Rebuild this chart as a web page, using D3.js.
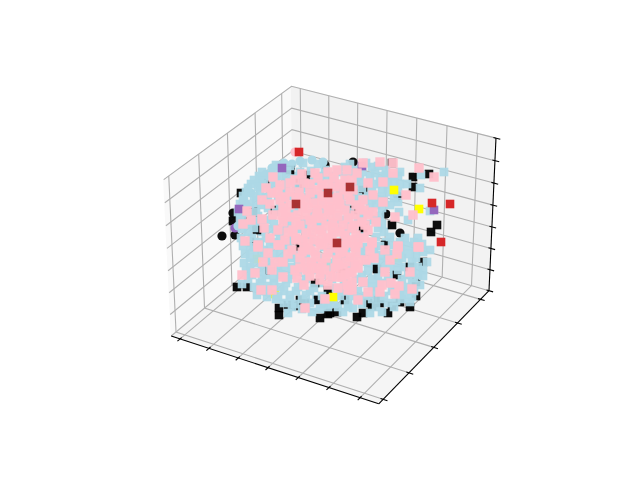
<!DOCTYPE html>
<html>
<head>
<meta charset="utf-8">
<script src="https://cdn.jsdelivr.net/npm/d3@7"></script>
<style>
  html, body { margin: 0; padding: 0; background: #fff; }
  svg { display: block; }
</style>
</head>
<body>
<svg width="640" height="480"></svg>
<script>
'use strict';

// axis ticks (labels are switched off in the original)
var xTicks = [-3, -2, -1, 0, 1, 2, 3];
var yTicks = [-4, -2, 0, 2, 4];
var zTicks = [-7, -5, -3, -1, 1, 3, 5, 7];

// scatter values as [horizontal, vertical] in the projected view
var blackCircles = [[222,236],[398,196],[400,233],[386,214],[353,162],[243,216],[235,235],[290,168],[265,183],[325,165],[256,229],[233,213]];
var blackSquares = [[241,193],[233,221],[413,177],[429,174],[413,187],[437,225],[431,232],[392,163],
  [279,308],[279,315],[237,287],[247,287],[288,305],[300,300],[305,303],[328,314],[337,312],[357,317],
  [363,313],[378,300],[380,303],[388,313],[368,303],[400,302],[410,307],[416,282],[423,262],[330,313],
  [250,242],[372,306],[392,306],[416,296],[320,318],[298,306]];
var blackMiddle = [[307,175],[300,183],[275,210],[253,212],[353,210],[363,190],[392,225],[363,228],[315,283],[328,290],
  [318,300],[343,273],[377,269],[397,275],[410,267],[300,247],[257,230],[290,170],[345,300],[385,245],[270,270]];
var purpleBehind = [[243,203],[235,228]];
var yellowBehind = [[257,259],[327,263],[398,258],[243,212],[275,294]];
var blueCircles = [[272,168],[266,174],[284,163],[300,161],[312,160],[323,162],[258,183],[251,193],[246,204],[241,214],[238,226],[278,166],[292,164],[260,178]];
var blueBackSquares = [
  [259,176],[270,176],[282,176],[295,176],[308,176],[321,176],[334,176],[346,176],[358,176],[370,176],[382,176],[390,176],
  [251,184],[262,184],[274,184],[286,184],[298,184],[310,184],[322,184],[334,184],[346,184],[356,184],[368,184],[376,184],[388,184],[400,184],
  [246,192],[260,192],[272,192],[286,192],[300,192],[312,192],[324,192],[340,192],[352,192],[372,192],[388,192],[398,192],
  [244,200],[256,200],[268,200],[284,200],[300,200],[316,200],[328,200],[340,200],[352,200],[364,200],[372,200],[384,200],[398,202],
  [242,208],[254,208],[268,208],[284,208],[302,208],[318,208],[332,208],[344,208],[356,208],[370,208],[382,208],
  [242,216],[258,216],[272,216],[288,216],[312,216],[336,216],[348,216],[362,216],[380,216],
  [246,224],[260,224],[274,224],[290,224],[306,224],[320,224],[334,224],[348,224],[366,224],[382,224],
  [248,232],[262,232],[276,232],[292,232],[306,232],[322,232],[334,232],[346,232],[364,232],[384,232],
  [248,242],[260,242],[274,242],[288,242],[300,242],[316,242],[336,242],[356,242],[372,242],[386,242],[400,242],[414,242],
  [250,250],[264,250],[280,250],[296,250],[310,250],[330,250],[346,250],[360,250],[374,250],[386,250],[400,250],[416,250],
  [250,258],[266,258],[280,258],[290,258],[306,258],[324,258],[344,258],[354,258],[372,258],[388,258],[402,258],[416,258],
  [250,267],[262,267],[278,267],[292,267],[306,267],[322,267],[340,267],[358,267],[376,267],[390,267],[404,267],[418,267],
  [252,275],[266,275],[280,275],[292,275],[308,275],[322,275],[340,275],[362,275],[378,275],[394,275],[408,275],[418,275],
  [260,283],[274,283],[286,283],[302,283],[320,283],[344,283],[364,283],[380,283],[390,283],[412,283],
  [264,291],[284,291],[296,291],[310,291],[328,291],[344,291],[358,291],[376,291],[392,291],[400,291],[414,291],
  [276,299],[290,299],[302,299],[316,299],[330,299],[344,299],[358,299],[372,299],[380,299],[402,299],
  [292,307],[306,307],[328,307],[338,307],[348,307],[376,307],[394,307]
];
var blueSquares = [
  [345,167],[356,170],[372,167],[386,170],[400,172],[421,175],[444,172],
  [276,165],[290,166],[303,163],[318,164],[350,164],[366,163],[378,166],
  [262,172],[274,173],[287,171],[300,172],[311,171],[325,170],[338,172],[350,173],[362,172],[375,173],[386,175],[398,176],
  [254,180],[264,181],[276,180],[288,179],[302,180],[314,181],[328,179],[360,180],[380,181],[394,182],[407,184],
  [248,188],[258,187],[270,188],[282,188],[296,187],[306,188],[330,189],[338,187],[362,188],[382,189],[420,188],
  [243,196],[254,196],[266,197],[278,196],[292,196],[304,197],[316,196],[334,197],[346,196],[358,197],[368,196],[380,197],[394,198],
  [240,204],[250,204],[262,205],[280,204],[296,205],[310,204],[322,205],[334,204],[346,205],[358,204],[376,205],[390,205],
  [238,212],[248,213],[256,212],[276,212],[294,212],[312,213],[326,212],[350,212],[366,213],[399,212],[430,211],
  [240,220],[252,221],[266,220],[284,220],[304,221],[326,221],[342,220],[358,221],[374,220],[408,220],
  [242,229],[254,228],[268,229],[284,229],[298,229],[316,228],[338,229],[352,229],[378,228],
  [241,238],[252,238],[266,238],[280,237],[294,238],[310,237],[326,238],[344,238],[360,237],[376,237],[390,237],[405,238],[418,238],
  [243,246],[254,247],[270,246],[288,246],[304,246],[324,247],[352,246],[366,247],[380,246],[392,245],[408,246],[422,244],[430,250],
  [245,254],[258,255],[274,254],[296,255],[316,255],[336,255],[362,254],[380,255],[392,254],[408,254],[423,252],
  [244,263],[254,263],[270,263],[284,262],[298,263],[314,263],[330,263],[350,263],[368,263],[382,262],[398,263],[412,262],[427,262],
  [246,271],[258,272],[270,270],[284,270],[298,271],[314,270],[330,271],[350,271],[368,271],[382,270],[398,270],[412,270],[423,270],
  [248,279],[262,279],[274,278],[288,279],[306,279],[332,279],[356,279],[372,279],[388,278],[402,279],[414,278],[423,276],
  [242,284],[254,287],[268,286],[280,287],[298,287],[314,288],[336,288],[352,286],[372,287],[396,287],[406,287],[420,285],
  [257,295],[267,297],[278,296],[290,295],[306,295],[322,296],[340,296],[350,296],[366,296],[384,296],[404,295],[412,297],
  [284,303],[295,304],[310,303],[324,304],[334,304],[348,304],[362,304],[388,303],[396,301],[410,302],
  [288,313],[312,312],[320,309],[343,312],[353,308],[370,313],[382,312],[302,309]
];
var purpleSquares = [[282,168],[239,209],[434,210],[362,166]];
var yellowSquares = [[394,190],[419,209],[333,297]];
var pinkCircles = [[295,152]];
var pinkSquares = [
  [273,177],[247,211],[262,219],[243,224],[251,220],[245,241],[258,245],[278,245],[272,193],[278,192],[285,197],[304,183],
  [315,173],[328,172],[290,183],[310,193],[303,207],[317,210],[330,207],[290,217],[273,215],[278,230],[293,230],[310,220],
  [320,230],[333,223],[303,240],[320,243],[380,162],[393,163],[419,168],[434,177],[383,182],[393,173],[368,183],[406,195],
  [383,202],[373,195],[363,200],[373,212],[413,215],[395,217],[368,215],[354,225],[368,230],[343,225],[358,243],[372,242],
  [398,247],[418,247],[353,190],[347,170],[337,170],[357,173],[338,197],[350,200],[337,208],[363,163],[335,187],[242,275],
  [255,273],[261,290],[272,290],[305,308],[325,299],[258,247],[268,253],[280,245],[263,262],[275,262],[283,262],[292,250],
  [305,262],[302,252],[283,277],[297,278],[295,270],[307,270],[320,273],[320,280],[335,268],[337,260],[315,252],[322,245],
  [335,248],[343,252],[342,277],[347,285],[322,263],[337,277],[343,268],[350,273],[355,265],[363,282],[348,290],[358,300],
  [368,292],[380,292],[382,285],[391,283],[399,286],[395,294],[412,289],[410,272],[385,272],[390,260],[397,254],[374,258],
  [370,251],[385,250],[398,246],[419,247],[372,243],[350,257],[340,253],[347,243],[335,243],[299,192],[322,185],[345,180],
  [290,205],[322,196],[345,210],[330,215],[300,225],[312,232],[285,240],[296,240],[310,250],[328,253],[360,208],[356,235],
  [345,235],[332,235],[298,215],[322,218],[283,208],[295,180],[355,215],[356,252],[366,260],[328,285],[304,285],
  [262,200],[270,204],[280,185],[264,228],[270,238],[283,222],[296,198],[306,200],[314,203],[322,204],[330,199],[344,190],
  [310,184],[318,178],[334,178],[340,184],[352,180],[306,215],[316,218],[326,226],[338,216],[348,218],[362,222],[306,233],
  [296,238],[314,240],[328,238],[340,232],[352,240],[364,238],[300,258],[312,262],[326,258],[346,262],[358,260],[310,276],
  [330,276],[352,282],[338,288],[300,268],[272,270],[288,254],[364,210],[376,222],[352,272],[318,190],[328,184],[282,215],
  [266,188],[290,192],[302,174],[340,204],[352,228],[318,268],[308,243],[288,232],
  [300,198],[308,208],[318,214],[328,210],[338,200],[348,195],[356,205],[312,225],[322,235],[334,228],[344,245],[355,247],
  [365,225],[304,248],[316,257],[330,244],[338,265],[358,268],[296,222],[286,212],[280,200],[312,268],[325,270],[345,275],[352,290]
];
var redSquares = [[299,152],[432,203],[450,204],[441,242]];
var brownSquares = [[328,193],[350,187],[296,204],[337,243]];

var svg = d3.select('svg');
var width = +svg.attr('width');
var height = +svg.attr('height');

// same camera as a default mplot3d axes: elev 30, azim -60, dist 10
var boxSize = [1.19, 1.19, 0.8925];
var eyeDir = [0.433, -0.75, 0.5];
var right = [0.866, 0.5, 0];
var up = [-0.25, 0.433, 0.866];
var center = boxSize.map(function (d) { return d / 2; });
var eye = center.map(function (d, i) { return d + 10 * eyeDir[i]; });

var px = d3.scaleLinear().domain([-0.095, 0.09]).range([143.2, 512.8]);
var py = d3.scaleLinear().domain([-0.095, 0.09]).range([427.2, 57.6]);

// picture scales for the scatter values
var sx = d3.scaleLinear().domain([0, 640]).range([0, width]);
var sy = d3.scaleLinear().domain([0, 480]).range([0, height]);

var fx = d3.scaleLinear().domain([-3.31, 3.59]).range([0, 1]);
var fy = d3.scaleLinear().domain([-4.33, 4.76]).range([0, 1]);
var fz = d3.scaleLinear().domain([-7, 7]).range([0, 1]);

function project(p) {
  var d = [p[0] * boxSize[0] - eye[0], p[1] * boxSize[1] - eye[1], p[2] * boxSize[2] - eye[2]];
  var a = d3.sum(d, function (v, i) { return v * right[i]; });
  var b = d3.sum(d, function (v, i) { return v * up[i]; });
  var c = d3.sum(d, function (v, i) { return v * eyeDir[i]; });
  return [px(a / -c), py(b / -c)];
}

var line3 = d3.line().x(function (p) { return project(p)[0]; }).y(function (p) { return project(p)[1]; });

var panes = [
  { fill: '#f9f9f9', pts: [[0,0,0],[0,1,0],[0,1,1],[0,0,1]] },
  { fill: '#f2f2f2', pts: [[0,1,0],[1,1,0],[1,1,1],[0,1,1]] },
  { fill: '#f5f5f5', pts: [[0,0,0],[1,0,0],[1,1,0],[0,1,0]] }
];
svg.append('g').selectAll('path').data(panes).enter().append('path')
  .attr('d', function (d) { return line3(d.pts) + 'Z'; })
  .attr('fill', function (d) { return d.fill; })
  .attr('stroke', function (d) { return d.fill; })
  .attr('stroke-width', 1);

var grids = [];
xTicks.forEach(function (t) {
  grids.push([[fx(t),0,0],[fx(t),1,0],[fx(t),1,1]]);
});
yTicks.forEach(function (t) {
  grids.push([[1,fy(t),0],[0,fy(t),0],[0,fy(t),1]]);
});
zTicks.forEach(function (t) {
  grids.push([[0,0,fz(t)],[0,1,fz(t)],[1,1,fz(t)]]);
});
svg.append('g').selectAll('path').data(grids).enter().append('path')
  .attr('d', line3)
  .attr('fill', 'none')
  .attr('stroke', '#b0b0b0')
  .attr('stroke-width', 1.1);

// axis lines and tick marks
var axes = [[[0,0,0],[1,0,0]], [[1,0,0],[1,1,0]], [[1,1,0],[1,1,1]]];
var tickMarks = [];
xTicks.forEach(function (t) { tickMarks.push([[fx(t),-0.02,0],[fx(t),0.012,0]]); });
yTicks.forEach(function (t) { tickMarks.push([[1.02,fy(t),0],[0.988,fy(t),0]]); });
zTicks.forEach(function (t) { tickMarks.push([[1.02,1,fz(t)],[0.988,1,fz(t)]]); });
svg.append('g').selectAll('path').data(axes.concat(tickMarks)).enter().append('path')
  .attr('d', line3)
  .attr('fill', 'none')
  .attr('stroke', '#000')
  .attr('stroke-width', 1.1);

function drawSquares(rows, color, opacity, side) {
  svg.append('g').selectAll('rect').data(rows).enter().append('rect')
    .attr('x', function (d) { return sx(d[0]) - side / 2; })
    .attr('y', function (d) { return sy(d[1]) - side / 2; })
    .attr('width', side)
    .attr('height', side)
    .attr('fill', color)
    .attr('opacity', opacity);
}

function drawCircles(rows, color, opacity) {
  svg.append('g').selectAll('circle').data(rows).enter().append('circle')
    .attr('cx', function (d) { return sx(d[0]); })
    .attr('cy', function (d) { return sy(d[1]); })
    .attr('r', 4.6)
    .attr('fill', color)
    .attr('opacity', opacity);
}

drawCircles(blackCircles, '#000', 0.95);
drawSquares(blackSquares, '#000', 0.95, 8.6);
drawCircles(purpleBehind, '#9467bd', 1);
drawSquares(yellowBehind, '#ffff00', 1, 8.6);
drawCircles(blueCircles, '#add8e6', 1);
drawSquares(blueBackSquares, '#add8e6', 0.95, 8.6);
drawSquares(blackMiddle, '#000', 0.95, 8.6);
drawSquares(blueSquares, '#add8e6', 0.95, 8.6);
drawSquares(purpleSquares, '#9467bd', 1, 8.6);
drawSquares(yellowSquares, '#ffff00', 1, 8.6);
drawCircles(pinkCircles, '#ffc0cb', 1);
drawSquares(pinkSquares, '#ffc0cb', 0.97, 9.4);
drawSquares(redSquares, '#d62728', 1, 8.6);
drawSquares(brownSquares, '#a52a2a', 0.95, 8.6);
</script>
</body>
</html>
